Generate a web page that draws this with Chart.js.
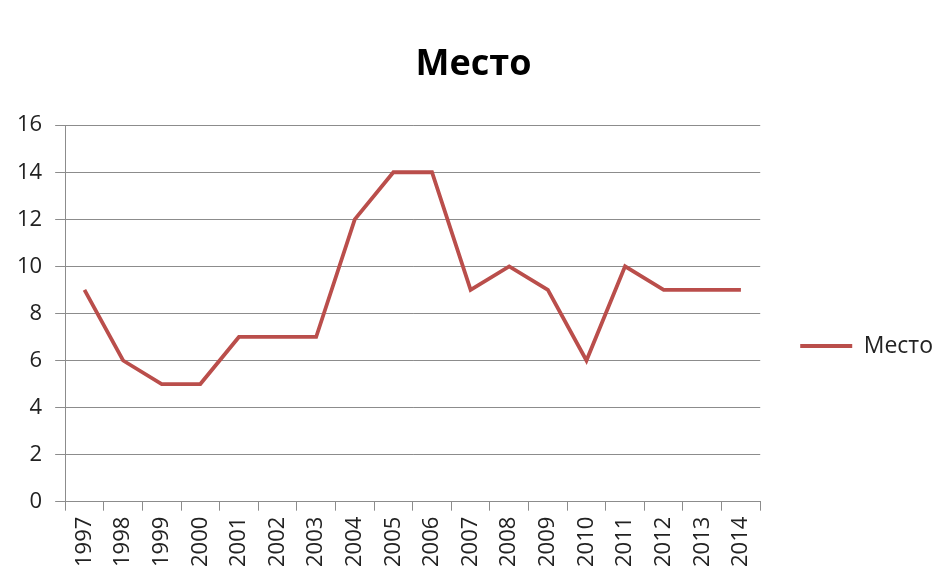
<!DOCTYPE html>
<html>
<head>
<meta charset="utf-8">
<script src="https://cdn.jsdelivr.net/npm/chart.js@4"></script>
<style>
  body { margin: 0; background: #fff; }
  #wrap { width: 945px; height: 582px; }
</style>
</head>
<body>
<div id="wrap"><canvas id="chart"></canvas></div>
<script>
// Years and place values
const years = ["1997", "1998", "1999", "2000", "2001", "2002", "2003", "2004", "2005",
  "2006", "2007", "2008", "2009", "2010", "2011", "2012", "2013", "2014"];
const places = [9, 6, 5, 5, 7, 7, 7, 12, 14, 14, 9, 10, 9, 6, 10, 9, 9, 9];
const seriesName = "Место";

const lineColor = "#BA4E4B";
const gridColor = "#8c8c8c";
const font = "'Open Sans', 'Liberation Sans', sans-serif";

// Excel puts the legend a little below the middle; nudge it down
const legendShift = {
    id: "legendShift",
    afterLayout(chart) {
        chart.legend.top += 38;
        chart.legend.bottom += 38;
    }
};

const ctx = document.getElementById("chart").getContext("2d");
new Chart(ctx, {
    type: "line",
    data: {
        labels: years,
        datasets: [{
            label: seriesName,
            data: places,
            borderColor: lineColor,
            backgroundColor: lineColor,
            borderWidth: 3.8,
            pointRadius: 0,
            tension: 0
        }]
    },
    plugins: [legendShift],
    options: {
        responsive: true,
        maintainAspectRatio: false,
        animation: false,
        layout: { padding: { left: 4, right: 2, top: 43, bottom: 9 } },
        plugins: {
            title: {
                display: true,
                text: seriesName,
                color: "#000",
                font: { family: font, size: 36, weight: "bold" },
                padding: { top: 0, bottom: 39 }
            },
            legend: {
                position: "right",
                labels: {
                    color: "#222",
                    font: { family: font, size: 23 },
                    boxWidth: 52,
                    boxHeight: 4,
                    padding: 40,
                    generateLabels: function(chart) {
                        let items = Chart.defaults.plugins.legend.labels.generateLabels(chart);
                        items.forEach(function(it) { it.lineWidth = 0; });
                        return items;
                    }
                }
            },
            tooltip: { enabled: false }
        },
        scales: {
            x: {
                offset: true,
                grid: {
                    offset: true,
                    drawOnChartArea: false,
                    drawTicks: true,
                    tickLength: 9,
                    color: gridColor
                },
                border: { color: gridColor, width: 1 },
                ticks: {
                    color: "#222",
                    font: { family: font, size: 22 },
                    minRotation: 90,
                    maxRotation: 90,
                    autoSkip: false,
                    padding: 6
                }
            },
            y: {
                min: 0,
                max: 16,
                grid: {
                    color: gridColor,
                    tickLength: 10
                },
                border: { color: gridColor, width: 1 },
                ticks: {
                    stepSize: 2,
                    color: "#222",
                    font: { family: font, size: 22 },
                    padding: 13
                }
            }
        }
    }
});
</script>
</body>
</html>
